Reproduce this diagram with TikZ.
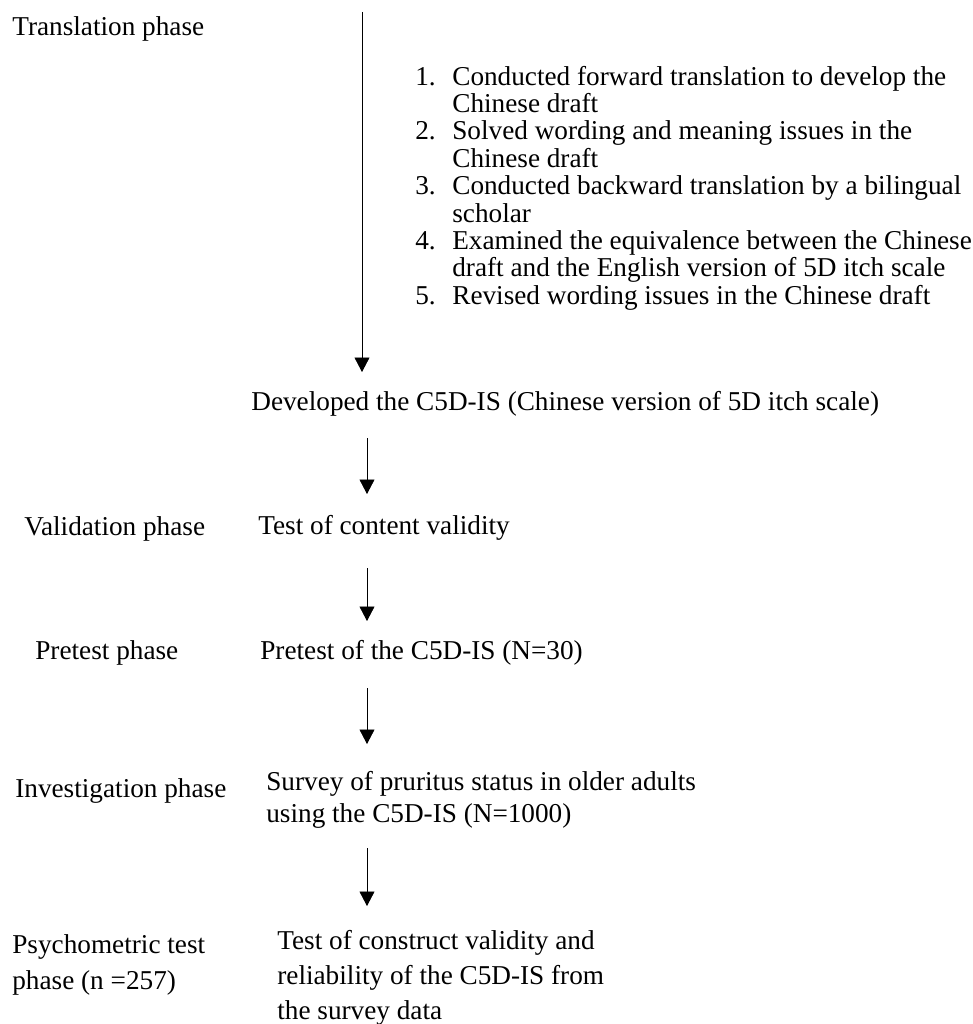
\documentclass[tikz,border=0pt]{standalone}
\usepackage{fontspec}
\setmainfont{Liberation Serif}
\usetikzlibrary{arrows.meta, positioning}

\newcommand{\itm}[1]{\makebox[0.74cm][l]{#1}}

\begin{document}
\begin{tikzpicture}[
x=0.02cm, y=-0.02cm,
phase/.style={anchor=west, inner sep=0pt, align=left, font=\fontsize{15.5}{18}\selectfont},
txt/.style={anchor=west, inner sep=0pt, align=left, font=\fontsize{15.5}{18}\selectfont},
line/.style={-{Triangle[length=2.9mm, width=3mm]}, thin}
]
\useasboundingbox (0,0) rectangle (973,1024);

\node[phase] (trans) at (12,29) {Translation phase};
\node[txt, font=\fontsize{15.5}{15.6}\selectfont] (list) at (415,188) {%
\itm{1.}Conducted forward translation to develop the\\
\itm{}Chinese draft\\
\itm{2.}Solved wording and meaning issues in the\\
\itm{}Chinese draft\\
\itm{3.}Conducted backward translation by a bilingual\\
\itm{}scholar\\
\itm{4.}Examined the equivalence between the Chinese\\
\itm{}draft and the English version of 5D itch scale\\
\itm{5.}Revised wording issues in the Chinese draft};
\node[txt] (dev) at (251,404) {Developed the C5D-IS (Chinese version of 5D itch scale)};

\node[phase] (valid) at (24,529) {Validation phase};
\node[txt] (content) at (258,528) {Test of content validity};

\node[phase] (pre) at (35,653) {Pretest phase};
\node[txt] (pretest) at (260,653) {Pretest of the C5D-IS (N=30)};

\node[phase] (inv) at (15,791) {Investigation phase};
\node[txt] (survey) at (266,800) {Survey of pruritus status in older adults\\using the C5D-IS (N=1000)};

\node[phase, font=\fontsize{15.5}{20.2}\selectfont] (psy) at (12,965) {Psychometric test\\phase (n =257)};
\node[txt, font=\fontsize{15.5}{19.8}\selectfont] (construct) at (277,978) {Test of construct validity and\\reliability of the C5D-IS from\\the survey data};

% arrow ends
\coordinate (a0) at (362,12);
\coordinate (a1) at (362,372);
\coordinate (b0) at (367,438);
\coordinate (b1) at (367,494);
\coordinate (c0) at (367,568);
\coordinate (c1) at (367,621);
\coordinate (d0) at (367,688);
\coordinate (d1) at (367,744);
\coordinate (e0) at (367,848);
\coordinate (e1) at (367,906);

\draw[line] (a0) -- (a1);
\draw[line] (b0) -- (b1);
\draw[line] (c0) -- (c1);
\draw[line] (d0) -- (d1);
\draw[line] (e0) -- (e1);
\end{tikzpicture}
\end{document}
